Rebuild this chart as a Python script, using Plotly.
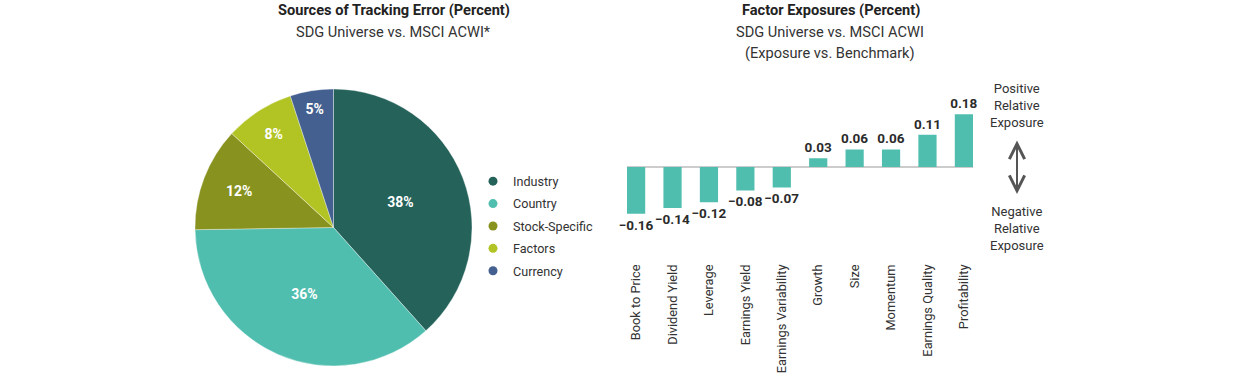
import plotly.graph_objects as go

# ---- data ----
pie_labels = ["Industry", "Country", "Stock-Specific", "Factors", "Currency"]
pie_values = [38, 36, 12, 8, 5]
pie_colors = ["#24625A", "#50BEAF", "#88921E", "#B2C424", "#436090"]

factors = ["Book to Price", "Dividend Yield", "Leverage", "Earnings Yield",
           "Earnings Variability", "Growth", "Size", "Momentum",
           "Earnings Quality", "Profitability"]
exposures = [-0.16, -0.14, -0.12, -0.08, -0.07, 0.03, 0.06, 0.06, 0.11, 0.18]
bar_color = "#50BEAF"

FONT = "Roboto, 'Open Sans', sans-serif"
W, H = 1238, 379


def px_x(x):
    return x / W


def px_y(y):
    return (H - y) / H


fig = go.Figure()

fig.add_trace(go.Pie(
    labels=pie_labels, values=pie_values, sort=False, direction="clockwise",
    rotation=0, marker=dict(colors=pie_colors, line=dict(color="rgba(255,255,255,0.6)", width=0.6)),
    texttemplate="%{value}%", textposition="inside", insidetextorientation="horizontal",
    textfont=dict(family=FONT, size=14, color="white", weight="bold"),
    domain=dict(x=[px_x(194.5), px_x(472.5)], y=[px_y(366), px_y(89)]),
    showlegend=False, hoverinfo="label+value",
))

# legend entries (circles) for the pie
for lab, col in zip(pie_labels, pie_colors):
    fig.add_trace(go.Scatter(
        x=[None], y=[None], mode="markers", name=lab, legendgroup=lab,
        marker=dict(symbol="circle", size=9, color=col), showlegend=True,
        xaxis="x", yaxis="y",
    ))

bar_text = [f"{v:.2f}".replace("-", "\u2212") for v in exposures]
fig.add_trace(go.Bar(
    x=factors, y=exposures, width=0.5, marker=dict(color=bar_color, line=dict(width=0)),
    text=bar_text, texttemplate="%{text}", textposition="outside",
    constraintext="none", cliponaxis=False,
    textfont=dict(family=FONT, size=13.5, color="#2b2b2b", weight="bold"),
    showlegend=False,
))

fig.update_layout(
    width=W, height=H, margin=dict(l=0, r=0, t=0, b=0),
    paper_bgcolor="white", plot_bgcolor="white",
    font=dict(family=FONT, size=12, color="#333333"),
    xaxis=dict(domain=[px_x(627), px_x(973)], range=[-0.25, 9.25], type="category",
               tickangle=-90, showgrid=False, showline=False, ticks="",
               tickfont=dict(family=FONT, size=12.8, color="#333333")),
    yaxis=dict(domain=[px_y(261), px_y(93.75)], range=[-0.321, 0.25], showgrid=False,
               showticklabels=False, zeroline=True, zerolinecolor="#cccccc",
               zerolinewidth=2, showline=False),
    legend=dict(x=px_x(473), y=px_y(226), xanchor="left", yanchor="middle",
                traceorder="grouped", tracegroupgap=3, itemwidth=30,
                font=dict(family=FONT, size=12.6, color="#333333"),
                bgcolor="rgba(0,0,0,0)"),
)

ann = [
    dict(text="<b>Sources of Tracking Error (Percent)</b>", x=394, y=10, size=14.6, color="#222222"),
    dict(text="SDG Universe vs. MSCI ACWI*", x=393, y=32, size=14.6, color="#333333"),
    dict(text="<b>Factor Exposures (Percent)</b>", x=831, y=10, size=14.6, color="#222222"),
    dict(text="SDG Universe vs. MSCI ACWI", x=830, y=32, size=14.6, color="#333333"),
    dict(text="(Exposure vs. Benchmark)", x=830, y=53, size=14.6, color="#333333"),
    dict(text="Positive<br>Relative<br>Exposure", x=1017, y=106, size=13, color="#333333"),
    dict(text="Negative<br>Relative<br>Exposure", x=1017, y=228, size=13, color="#333333"),
]
for a in ann:
    fig.add_annotation(text=a["text"], x=px_x(a["x"]), y=px_y(a["y"]), xref="paper", yref="paper",
                       xanchor="center", yanchor="middle", showarrow=False,
                       font=dict(family=FONT, size=a["size"], color=a["color"]))

# double-headed arrow
fig.add_annotation(text="", x=px_x(1017), y=px_y(194), xref="paper", yref="paper",
                   ax=0, ay=-55, axref="pixel", ayref="pixel", showarrow=True,
                   arrowhead=5, startarrowhead=5, arrowside="end+start",
                   arrowsize=1.5, startarrowsize=1.5, arrowwidth=2, arrowcolor="#555555")

fig.write_html("out.html", config={"displayModeBar": False},
               post_script="document.body.style.margin='0';document.body.style.padding='0';")
